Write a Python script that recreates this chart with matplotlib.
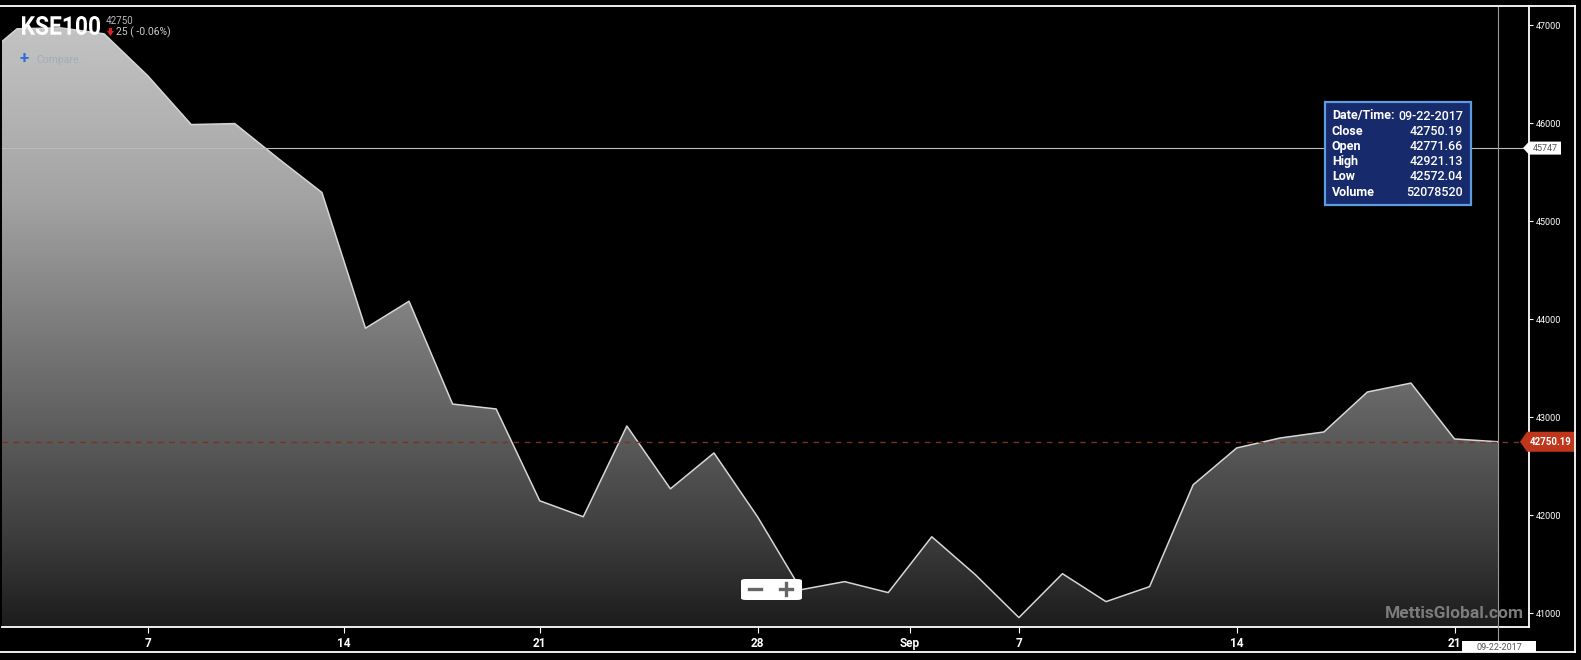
"""KSE100 daily close, Aug-Sep 2017, dark area chart."""

import matplotlib
matplotlib.use("Agg")
import matplotlib.pyplot as plt
import matplotlib.transforms as mtransforms
import numpy as np
from matplotlib.colors import LinearSegmentedColormap
from matplotlib.font_manager import FontProperties
from matplotlib.patches import FancyBboxPatch, PathPatch, Polygon, Rectangle
from matplotlib.lines import Line2D
from matplotlib.textpath import TextPath

plt.rcParams["font.family"] = ["Roboto", "DejaVu Sans"]

# trading days shown in the window
dates = np.array([
    "2017-08-01", "2017-08-02", "2017-08-03", "2017-08-04", "2017-08-07",
    "2017-08-08", "2017-08-09", "2017-08-10", "2017-08-11", "2017-08-15",
    "2017-08-16", "2017-08-17", "2017-08-18", "2017-08-21", "2017-08-22",
    "2017-08-23", "2017-08-24", "2017-08-25", "2017-08-28", "2017-08-29",
    "2017-08-30", "2017-08-31", "2017-09-05", "2017-09-06", "2017-09-07",
    "2017-09-08", "2017-09-11", "2017-09-12", "2017-09-13", "2017-09-14",
    "2017-09-15", "2017-09-18", "2017-09-19", "2017-09-20", "2017-09-21",
    "2017-09-22",
], dtype="datetime64[D]")
close = [
    46587, 46964, 46974, 46913, 46486,
    45987, 45997, 45640, 45294, 43909,
    44184, 43135, 43085, 42148, 41985,
    42911, 42270, 42636, 41985, 41241,
    41323, 41211, 41781, 41394, 40956,
    41404, 41119, 41272, 42311, 42687,
    42789, 42850, 43258, 43349, 42779,
    42750.19,
]

tick_dates = np.array([
    "2017-08-07", "2017-08-14", "2017-08-21", "2017-08-28",
    "2017-09-01", "2017-09-07", "2017-09-14", "2017-09-21",
], dtype="datetime64[D]")
tick_labels = ["7", "14", "21", "28", "Sep", "7", "14", "21"]
y_ticks = [41000, 42000, 43000, 44000, 45000, 46000, 47000]

crosshair_value = 45747
last_close = 42750.19
tooltip_keys = ["Date/Time:", "Close", "Open", "High", "Low", "Volume"]
tooltip_vals = ["09-22-2017", "42750.19", "42771.66", "42921.13", "42572.04", "52078520"]

W, H = 1581, 660


def fx(px):
    return px / W


def fy(py):
    return 1 - py / H


idx = np.arange(len(dates))
# non-trading tick dates sit half way between neighbours
pos = np.searchsorted(dates, tick_dates)
tick_pos = np.where(dates[np.minimum(pos, len(dates) - 1)] == tick_dates, pos, pos - 0.5)

fig = plt.figure(figsize=(W / 100, H / 100), dpi=100, facecolor="black")
ax = fig.add_axes([fx(2), fy(627), fx(1529) - fx(2), fy(6) - fy(627)])
ax.set_facecolor("black")

xlim = (0.656, 35.71)
ylim = (40860, 47197)

cmap = LinearSegmentedColormap.from_list("area", [
    (0.0, "#1c1c1c"), (0.14, "#3c3c3c"), (0.56, "#8a8a8a"),
    (0.69, "#a3a3a3"), (0.90, "#bcbcbc"), (1.0, "#c6c6c6"),
])
grad = np.linspace(0, 1, 256).reshape(-1, 1)
poly = ax.fill_between(idx, close, ylim[0], color="none", lw=0)
img = ax.imshow(grad, extent=[xlim[0], xlim[1], ylim[0], ylim[1]], origin="lower",
                aspect="auto", cmap=cmap, zorder=1)
img.set_clip_path(poly.get_paths()[0], transform=ax.transData)
ax.plot(idx, close, color="#d6d6d6", lw=1.1, zorder=3)

ax.set_xlim(*xlim)
ax.set_ylim(*ylim)

# last close and crosshair
ax.axhline(last_close, color="#7a3226", lw=1, dashes=(4, 4), zorder=4)
ax.axhline(crosshair_value, color="#bdbdbd", lw=0.8, zorder=4)
ax.axvline(idx[-1], ymin=-0.041, ymax=1, color="#9a9a9a", lw=0.8, zorder=4, clip_on=False)

ax.yaxis.tick_right()
ax.set_yticks(y_ticks)
ax.set_yticklabels([str(v) for v in y_ticks])
ax.tick_params(axis="y", colors="white", labelsize=6.5, length=3, width=0.8, pad=2)
ax.set_xticks(tick_pos)
ax.set_xticklabels(tick_labels, fontweight="bold")
ax.tick_params(axis="x", colors="white", labelsize=8.5, length=4, width=0.8, pad=3)
for side in ["left", "top"]:
    ax.spines[side].set_visible(False)
for side in ["right", "bottom"]:
    ax.spines[side].set_color("white")
    ax.spines[side].set_linewidth(1.3)

# outer frame
for xs, ys in [((0, 1575), (6, 6)), ((1575, 1575), (6, 652)), ((0, 1575), (652, 652))]:
    fig.add_artist(Line2D([fx(x) for x in xs], [fy(y) for y in ys], color="white", lw=1.3))

blend = mtransforms.blended_transform_factory(ax.transAxes, ax.transData)


def right_label(value, text, face, tcolor, tip, x0, x1, half_h, size, weight):
    tr = mtransforms.Affine2D() + mtransforms.ScaledTranslation(1.0, value, blend)
    shape = Polygon([(tip, 0), (x0, half_h), (x1, half_h), (x1, -half_h), (x0, -half_h)],
                    closed=True, facecolor=face, edgecolor="none", transform=tr,
                    clip_on=False, zorder=6)
    ax.add_artist(shape)
    ax.text((x0 + x1) / 2, 0, text, transform=tr, color=tcolor, fontsize=size,
            fontweight=weight, ha="center", va="center", zorder=7, clip_on=False)


right_label(crosshair_value, str(crosshair_value), "white", "#555555", -6, 0, 32, 6.5, 6.5, "normal")
right_label(last_close, f"{last_close:.2f}", "#c0361b", "white", -9, -2, 46, 10, 7, "bold")

# date badge under the crosshair
fig.add_artist(Rectangle((fx(1462), fy(652)), fx(74), 11 / H, facecolor="white",
                         edgecolor="none", transform=fig.transFigure))
fig.text(fx(1499), fy(647), "09-22-2017", color="#555555", fontsize=6.5, ha="center", va="center")

# tooltip
fig.add_artist(Rectangle((fx(1325), fy(205)), fx(146), 103 / H, facecolor="#172a6b",
                         edgecolor="#5e9be0", lw=1.6, transform=fig.transFigure, zorder=8))
for i, (k, v) in enumerate(zip(tooltip_keys, tooltip_vals)):
    yy = fy(116 + 15.2 * i)
    fig.text(fx(1332), yy, k, color="white", fontsize=9, fontweight="bold", va="center", zorder=9)
    fig.text(fx(1463), yy, v, color="white", fontsize=9, fontweight="medium",
             ha="right", va="center", zorder=9)

# zoom buttons
fig.add_artist(FancyBboxPatch((fx(741), fy(600)), fx(61), 21 / H,
                              boxstyle="round,pad=0,rounding_size=0.003", facecolor="white",
                              edgecolor="none", transform=fig.transFigure, zorder=8))
fig.add_artist(Line2D([fx(749), fx(761)], [fy(589), fy(589)], color="#666666", lw=2.4, zorder=9))
fig.add_artist(Line2D([fx(780), fx(792)], [fy(589), fy(589)], color="#666666", lw=2.4, zorder=9))
fig.add_artist(Line2D([fx(786), fx(786)], [fy(583), fy(595)], color="#666666", lw=2.4, zorder=9))

# header: condensed title squeezed into its box (x 22-100, y 16-35 from top)
title = TextPath((0, 0), "KSE100", size=30, prop=FontProperties(family="Roboto", weight="bold"))
ext = title.get_extents()
sx = 78 / ext.width
sy = 19 / ext.height
title_tr = (mtransforms.Affine2D().translate(-ext.x0, -ext.y0).scale(sx, sy)
            .translate(22, H - 35))
fig.add_artist(PathPatch(title, facecolor="white", edgecolor="none",
                         transform=title_tr + mtransforms.IdentityTransform()))
fig.text(fx(106), fy(21), "42750", color="#bbbbbb", fontsize=7, va="center")
arrow = [(109, 28), (112, 28), (112, 31), (114, 31), (110.5, 36), (107, 31), (109, 31)]
fig.add_artist(Polygon([(fx(x), fy(y)) for x, y in arrow], closed=True, facecolor="#e02020",
                       edgecolor="none", transform=fig.transFigure))
fig.text(fx(116), fy(32), "25 ( -0.06%)", color="#cccccc", fontsize=7.5, va="center")
fig.text(fx(20), fy(59), "+", color="#2f6fd6", fontsize=12, fontweight="bold", va="center")
fig.text(fx(36), fy(60), "Compare...", color="#a4acb5", fontsize=7.5, va="center")

fig.text(fx(1524), fy(613), "MettisGlobal.com", color="#7c7c7c", fontsize=12.5,
         fontweight="bold", ha="right", va="center", zorder=5)

fig.savefig("out.png", dpi=100, facecolor="black")
